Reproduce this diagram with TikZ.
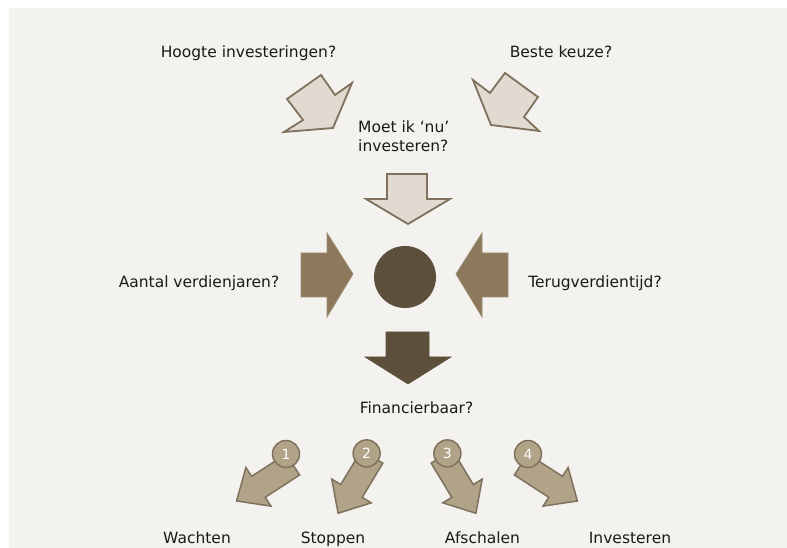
\documentclass[tikz,border=0pt]{standalone}
\usepackage{fontspec}
\setmainfont{DejaVu Sans}
\usepackage{tikz}
\definecolor{panel}{HTML}{F4F2EE}
\definecolor{lightfill}{HTML}{E0DAD0}
\definecolor{lightline}{HTML}{7F715E}
\definecolor{midfill}{HTML}{8C795C}
\definecolor{darkfill}{HTML}{5C4F3B}
\definecolor{choicefill}{HTML}{B0A388}
\definecolor{textgray}{HTML}{1A1A1A}
\tikzset{
  question/.style={font=\fontsize{15.5}{19.2}\selectfont, text=textgray, inner sep=0pt},
  lightarrow/.style={fill=lightfill, draw=lightline, line width=1.8pt},
  midarrow/.style={fill=midfill, draw=midfill!85!white, line width=0.8pt},
  darkarrow/.style={fill=darkfill, draw=darkfill, line width=0.6pt},
  choicearrow/.style={fill=choicefill, draw=lightline, line width=1.5pt},
  choicedot/.style={circle, fill=choicefill, draw=lightline, line width=1.5pt,
    minimum size=27pt, inner sep=0pt, text=white, font=\fontsize{14}{14}\selectfont}
}

\begin{document}
\begin{tikzpicture}[x=1pt,y=1pt]
\useasboundingbox (0,0) rectangle (787,548);
\fill[panel] (9,0) rectangle (787,540);

\draw (248.5,490.5) node[question, anchor=base] (hoogte) {Hoogte investeringen?};
\draw (561,490.5) node[question, anchor=base] (keuze) {Beste keuze?};
\draw (358,427.3) node[question, anchor=north west, align=left] (nu) {Moet ik ‘nu’\\investeren?};
\draw (199,260) node[question, anchor=base] (verdienjaren) {Aantal verdienjaren?};
\draw (595,260) node[question, anchor=base] (terugverdien) {Terugverdientijd?};
\draw (416.5,134) node[question, anchor=base] (financier) {Financierbaar?};
\draw (197,4) node[question, anchor=base] (wachten) {Wachten};
\draw (333,4) node[question, anchor=base] (stoppen) {Stoppen};
\draw (482.5,4) node[question, anchor=base] (afschalen) {Afschalen};
\draw (630,4) node[question, anchor=base] (investeren) {Investeren};

\draw[lightarrow] (321,473) -- (335,453) -- (352,465) -- (333,420) -- (284,416) -- (303,428) -- (287,449) -- cycle;
\draw[lightarrow] (505,475) -- (538,451) -- (524,431) -- (539,417) -- (491,423) -- (473,468) -- (490,455) -- cycle;
\draw[lightarrow] (387,374) -- (427,374) -- (427,349) -- (450,349) -- (408,324) -- (366,349) -- (387,349) -- cycle;

\draw[midarrow] (301,295) -- (327,295) -- (327,315) -- (353,274) -- (327,231) -- (327,251) -- (301,251) -- cycle;
\draw[midarrow] (508,295) -- (482,295) -- (482,315) -- (456,274) -- (482,231) -- (482,251) -- (508,251) -- cycle;

\fill[darkfill] (405,271) circle (31);
\draw[darkarrow] (386,216) -- (429,216) -- (429,191) -- (451,191) -- (408,164) -- (365,191) -- (386,191) -- cycle;

\begin{scope}[shift={(292.8,83.5)}, rotate=213]
\draw[choicearrow] (0,-12.5) -- (41,-12.5) -- (41,-23) -- (67,0) -- (41,23) -- (41,12.5) -- (0,12.5) -- cycle;
\draw (0,-12.5) node[choicedot] (een) {1};
\end{scope}
\begin{scope}[shift={(372.1,91.3)}, rotate=239]
\draw[choicearrow] (0,-12.5) -- (40,-12.5) -- (40,-23) -- (66,0) -- (40,23) -- (40,12.5) -- (0,12.5) -- cycle;
\draw (0,-6.4) node[choicedot] (twee) {2};
\end{scope}
\begin{scope}[shift={(441.9,91.3)}, rotate=301]
\draw[choicearrow] (0,-12.5) -- (40,-12.5) -- (40,-23) -- (66,0) -- (40,23) -- (40,12.5) -- (0,12.5) -- cycle;
\draw (0,6.4) node[choicedot] (drie) {3};
\end{scope}
\begin{scope}[shift={(521.2,83.5)}, rotate=327]
\draw[choicearrow] (0,-12.5) -- (41,-12.5) -- (41,-23) -- (67,0) -- (41,23) -- (41,12.5) -- (0,12.5) -- cycle;
\draw (0,12.5) node[choicedot] (vier) {4};
\end{scope}
\end{tikzpicture}
\end{document}
